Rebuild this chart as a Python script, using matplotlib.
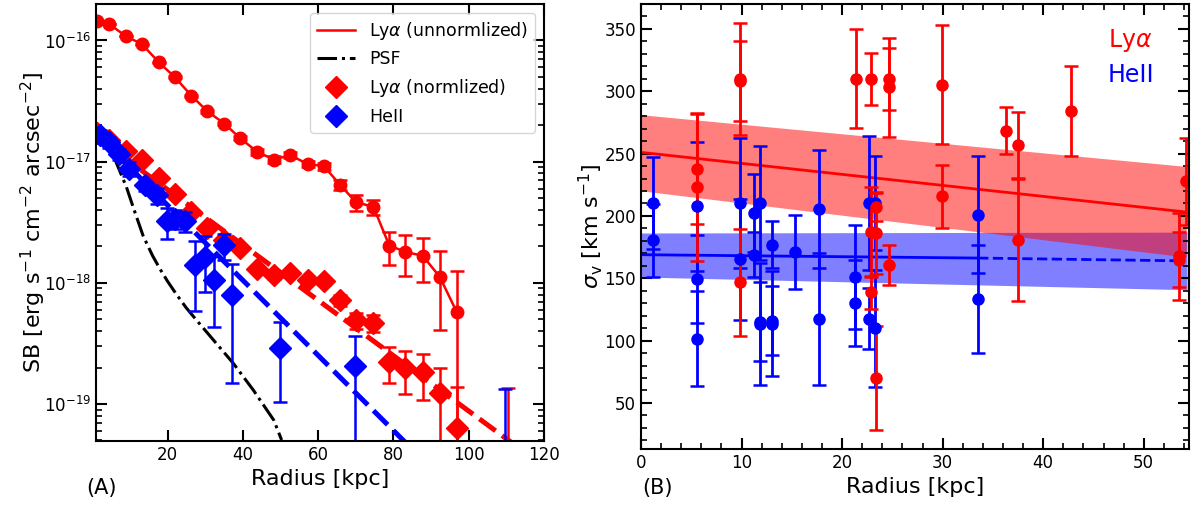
import matplotlib
matplotlib.use('Agg')
import matplotlib.pyplot as plt
import numpy as np
from matplotlib.ticker import MultipleLocator, NullFormatter

# ---- panel A: surface brightness profiles ----
r_lya = [1.2, 4.45, 8.85, 13.25, 17.7, 21.9, 26.35, 30.6, 35.1, 39.2, 43.75, 48.2,
         52.6, 57.25, 61.5, 65.8, 70.0, 74.7, 78.9, 83.2, 87.8, 92.3, 96.8]
sb_unnorm = [144, 137, 109, 93, 66, 50, 35, 26, 20.6, 15.7, 12.1, 10.4,
             11.3, 9.55, 9.2, 6.46, 4.64, 4.23, 2.03, 1.80, 1.67, 1.12, 0.575]
sb_unnorm_err = [0.65, 0.65, 0.65, 0.65, 0.65, 0.65, 0.65, 0.65, 0.65, 0.65, 0.65, 0.65,
                 0.65, 0.6, 0.6, 0.6, 0.7, 0.62, 0.62, 0.67, 0.66, 0.71, 0.68]
sb_norm = [17.1, 15.0, 12.2, 10.4, 7.33, 5.45, 3.84, 2.81, 2.25, 1.92, 1.31, 1.16,
           1.21, 1.05, 1.03, 0.719, 0.492, 0.467, 0.223, 0.197, 0.182, 0.124, 0.063]
sb_norm_err = [0.075] * 23
# last Lya bin lies below the plotted range
r_lya_out = [110.3]
sb_lya_out = [0.02]
sb_lya_out_err = [0.116]

r_he = [2.1, 4.4, 7.0, 9.7, 14.1, 17.2, 19.9, 22.1, 24.7, 27.4, 30.0, 32.3,
        34.9, 37.1, 49.9, 69.8, 109.5]
sb_he = [16.5, 14.5, 11.5, 8.75, 6.38, 5.27, 3.22, 3.39, 3.22, 1.40, 1.64, 1.05,
         2.04, 0.79, 0.288, 0.207, 0.01]
sb_he_err = [1.6, 1.6, 1.2, 1.1, 0.6, 0.8, 0.9, 0.6, 0.6, 0.82, 0.8, 0.62,
             0.5, 0.64, 0.185, 0.158, 0.122]

r_psf = [1.0, 2.1, 3.4, 4.7, 6.0, 7.5, 9.1, 11.0, 13.5, 16.0, 18.0, 20.0, 22.4,
         25.0, 27.7, 32.2, 37.5, 42.8, 48.2, 50.3]
sb_psf = [17.8, 17.0, 15.2, 13.0, 10.5, 8.1, 6.15, 4.1, 2.45, 1.68, 1.30, 1.03, 0.80,
          0.62, 0.492, 0.337, 0.216, 0.130, 0.0737, 0.0504]

fit_lya_r = [1, 112]
fit_lya_sb = [16.0, 0.0465]
fit_he_r = [1, 84]
fit_he_sb = [17.0, 0.0454]

# ---- panel B: velocity dispersion ----
r_he_v = [1.16, 1.16, 5.57, 5.57, 5.57, 9.87, 9.87, 11.26, 11.26, 11.86, 11.86, 11.86,
          13.02, 13.02, 13.02, 15.34, 17.66, 17.66, 21.27, 21.27, 22.7, 22.7,
          23.29, 23.29, 33.53, 33.53]
sig_he = [210.4, 180.3, 207.6, 149.4, 101.4, 210.4, 165.4, 202.3, 168.9, 210.4, 115.3, 113.2,
          176.9, 116.1, 113.5, 171, 205.5, 117.5, 151, 130.1, 210.4, 117.5,
          210.4, 110, 201, 133.3]
sig_he_err = [37, 29, 52, 35, 38, 52, 48.5, 31, 18, 46, 32, 49,
              19, 28, 42, 29.5, 47, 53, 41.5, 34.6, 53.4, 24.6,
              37.5, 47, 47, 43]

r_lya_v = [5.57, 5.57, 9.87, 9.87, 9.87, 21.37, 22.9, 22.9, 22.9, 23.4, 23.4, 23.4,
           24.68, 24.68, 24.68, 29.89, 29.89, 36.35, 37.5, 37.5, 42.8, 53.5, 53.5, 54.23]
sig_lya = [237.6, 223.2, 310, 308.5, 146.6, 310.1, 310.1, 187.1, 138.6, 207.1, 186.3, 69.9,
           310.1, 303.1, 160.3, 305.3, 215.7, 268.4, 256.6, 180.9, 283.9, 167.5, 165, 227.7]
sig_lya_err = [44, 59, 45, 32, 43, 39.5, 21, 36, 13, 11, 33, 41.5,
               25, 40, 16, 48, 25, 19, 27, 49.5, 36, 35, 22, 35]

line_lya_r = [0, 54.23]
line_lya_sig = [251, 203.1]
band_lya_lo = [220.2, 167]
band_lya_hi = [281.2, 239.7]

line_he_r = [0, 33.53]
line_he_sig = [168.9, 166.2]
line_he_ext_r = [33.53, 53.5]
line_he_ext_sig = [166.2, 164]
band_he_r = [0, 54.3]
band_he_lo = [151, 140.8]
band_he_hi = [186.3, 187]

s = 1e-18

fig = plt.figure(figsize=(11.91, 5.08), dpi=100)
ax1 = fig.add_axes([0.0806, 0.1319, 0.3762, 0.8602])
ax2 = fig.add_axes([0.5382, 0.1161, 0.4601, 0.876])

# panel A
ax1.plot(r_lya, np.array(sb_unnorm) * s, 'r-', lw=1.8, label=r'Ly$\alpha$ (unnormlized)')
ax1.errorbar(r_lya, np.array(sb_unnorm) * s, yerr=np.array(sb_unnorm_err) * s,
             fmt='o', color='red', ms=9, elinewidth=1.8, capsize=5, capthick=1.8)
ax1.plot(r_psf, np.array(sb_psf) * s, 'k-.', lw=2.2, label='PSF')
ax1.plot(fit_lya_r, np.array(fit_lya_sb) * s, color='red', lw=3.6, ls=(0, (4, 1.6)))
ax1.plot(fit_he_r, np.array(fit_he_sb) * s, color='blue', lw=3.6, ls=(0, (4, 1.6)))
ax1.errorbar(r_lya, np.array(sb_norm) * s, yerr=np.array(sb_norm_err) * s,
             fmt='none', ecolor='red', elinewidth=1.8, capsize=5, capthick=1.8)
ax1.errorbar(r_lya_out, np.array(sb_lya_out) * s, yerr=np.array(sb_lya_out_err) * s,
             fmt='none', ecolor='red', elinewidth=1.8, capsize=5, capthick=1.8)
ax1.plot(r_lya, np.array(sb_norm) * s, 'D', color='red', ms=11, ls='none',
         label=r'Ly$\alpha$ (normlized)')
ax1.errorbar(r_he, np.array(sb_he) * s, yerr=np.array(sb_he_err) * s,
             fmt='none', ecolor='blue', elinewidth=1.8, capsize=5, capthick=1.8)
ax1.plot(r_he, np.array(sb_he) * s, 'D', color='blue', ms=11, ls='none', label='HeII')

ax1.set_yscale('log')
ax1.set_xlim(1, 120)
ax1.set_ylim(4.95e-20, 2.0e-16)
ax1.set_yticks([1e-19, 1e-18, 1e-17, 1e-16])
ax1.yaxis.set_minor_formatter(NullFormatter())
ax1.set_xticks([20, 40, 60, 80, 100, 120])
ax1.tick_params(which='both', direction='in', top=True, right=True, labelsize=12)
ax1.tick_params(which='major', length=8, width=1.5)
ax1.tick_params(which='minor', length=4, width=1.2)
ax1.set_xlabel('Radius [kpc]', fontsize=16)
ax1.set_ylabel(r'SB [erg s$^{-1}$ cm$^{-2}$ arcsec$^{-2}$]', fontsize=16)
ax1.yaxis.set_label_coords(-0.107, 0.5)
ax1.legend(loc='upper right', fontsize=12.5, handlelength=2.2)
for sp in ax1.spines.values():
    sp.set_linewidth(1.5)
fig.text(0.085, 0.04, '(A)', fontsize=15, ha='center', va='center')

# panel B
ax2.fill_between(band_he_r, band_he_lo, band_he_hi, color='blue', alpha=0.5, lw=0)
ax2.fill_between(line_lya_r, band_lya_lo, band_lya_hi, color='red', alpha=0.5, lw=0)
ax2.plot(line_lya_r, line_lya_sig, 'r-', lw=2)
ax2.plot(line_he_r, line_he_sig, 'b-', lw=2)
ax2.plot(line_he_ext_r, line_he_ext_sig, 'b--', lw=2)
ax2.errorbar(r_he_v, sig_he, yerr=sig_he_err, fmt='o', color='blue', ms=8,
             elinewidth=2, capsize=5, capthick=1.8)
ax2.errorbar(r_lya_v, sig_lya, yerr=sig_lya_err, fmt='o', color='red', ms=8,
             elinewidth=2, capsize=5, capthick=1.8)

ax2.set_xlim(0, 54.5)
ax2.set_ylim(13, 370)
ax2.xaxis.set_major_locator(MultipleLocator(10))
ax2.xaxis.set_minor_locator(MultipleLocator(2))
ax2.yaxis.set_major_locator(MultipleLocator(50))
ax2.yaxis.set_minor_locator(MultipleLocator(10))
ax2.tick_params(which='both', direction='in', top=True, right=True, labelsize=12)
ax2.tick_params(which='major', length=8, width=1.5)
ax2.tick_params(which='minor', length=4, width=1.2)
ax2.set_xlabel('Radius [kpc]', fontsize=16)
ax2.set_ylabel(r'$\sigma_{\rm v}$ [km s$^{-1}$]', fontsize=16)
ax2.yaxis.set_label_coords(-0.066, 0.5)
ax2.text(0.892, 0.919, r'Ly$\alpha$', color='red', fontsize=17, ha='center', va='center',
         transform=ax2.transAxes)
ax2.text(0.895, 0.840, 'HeII', color='blue', fontsize=17, ha='center', va='center',
         transform=ax2.transAxes)
for sp in ax2.spines.values():
    sp.set_linewidth(1.5)
fig.text(0.552, 0.04, '(B)', fontsize=15, ha='center', va='center')

fig.savefig('out.png', dpi=100)
